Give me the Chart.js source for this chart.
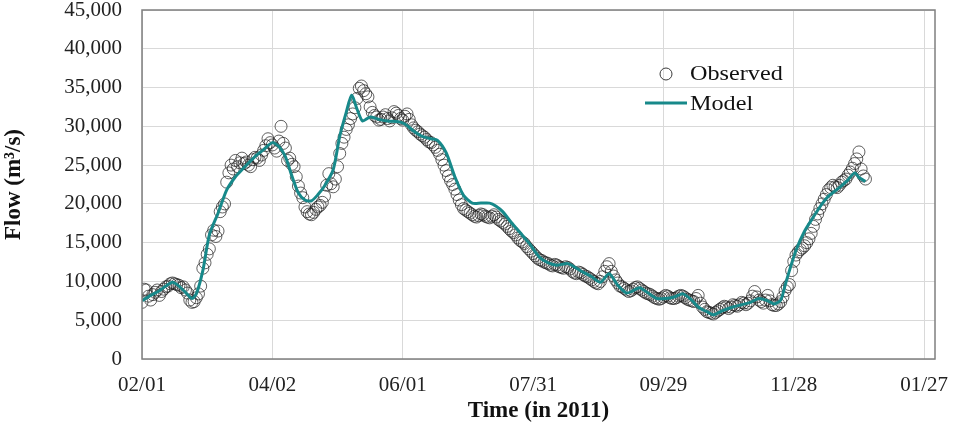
<!DOCTYPE html>
<html>
<head>
<meta charset="utf-8">
<script src="https://cdn.jsdelivr.net/npm/chart.js@4/dist/chart.umd.min.js"></script>
<style>
  html, body { margin: 0; padding: 0; background: #fff; }
  #wrap { width: 953px; height: 427px; }
</style>
</head>
<body>
<div id="wrap"><canvas id="chart" width="953" height="427"></canvas></div>
<script>
// x is days counted from 2011-02-01
const xTickDays = [0, 60, 120, 180, 240, 300, 360]
const xTickLabels = ["02/01", "04/02", "06/01", "07/31", "09/29", "11/28", "01/27"]
const yTicks = [0, 5000, 10000, 15000, 20000, 25000, 30000, 35000, 40000, 45000]

// daily observed flow, 02/01 .. 12/31
const obsFlow = [
  7300, 9000, 8900, 8100, 7600, 8300, 8600, 8900, 8200, 8700, 9000, 9300, 9400, 9700, 9800, 9700, 9600, 9500, 9200, 9300,
  8900, 8500, 7600, 7300, 7400, 7900, 8400, 9400, 11700, 12400, 13500, 14200, 16000, 16600, 15800, 16500, 19000, 19600, 20000, 22800,
  24000, 25000, 24500, 25600, 24800, 25300, 25900, 25200, 25400, 25000, 24800, 25700, 26000, 25900, 25600, 26300, 26900, 27500, 28400, 27900,
  27600, 27200, 26800, 28100, 30000, 27800, 27200, 25600, 25900, 25100, 24800, 23500, 22300, 21400, 20800, 19600, 19000, 18700, 18600, 18900,
  19300, 19600, 19800, 20200, 21000, 22400, 23900, 22600, 22200, 23200, 24800, 26500, 27800, 28600, 29600, 30200, 31000, 31600, 32400, 33600,
  34900, 35200, 34600, 34200, 33800, 32500, 31800, 31400, 31200, 30800, 30900, 31200, 31500, 31000, 30700, 31100, 31900, 31700, 31400, 31000,
  30800, 31300, 31600, 30900, 30200, 29800, 29500, 29300, 29000, 28800, 28600, 28300, 28000, 27900, 27600, 27300, 26900, 26400, 25700, 25000,
  24300, 23600, 23000, 22500, 21900, 21200, 20500, 19900, 19400, 19200, 19000, 18800, 18600, 18400, 18300, 18500, 18700, 18600, 18400, 18300,
  18200, 18400, 18600, 18300, 18000, 17800, 17600, 17400, 17100, 16800, 16500, 16300, 16000, 15600, 15300, 15100, 14900, 14500, 14200, 13900,
  13600, 13300, 13000, 12800, 12700, 12500, 12400, 12300, 12100, 12000, 12200, 12100, 11900, 11800, 11700, 11900, 11800, 11600, 11300, 11100,
  11000, 11200, 11100, 10900, 10700, 10600, 10400, 10200, 10000, 9800, 9700, 10000, 10600, 11300, 11900, 12300, 11300, 10700, 10200, 9800,
  9400, 9300, 9100, 8900, 8700, 8800, 9000, 9200, 9300, 9100, 8900, 8700, 8500, 8400, 8300, 8100, 7900, 7800, 7700, 7800,
  8000, 8200, 8100, 7900, 7800, 7800, 7900, 8100, 8200, 8100, 7900, 7700, 7600, 7500, 7400, 7800, 8200, 7200, 6700, 6400,
  6100, 6000, 5900, 5800, 6000, 6200, 6400, 6600, 6800, 6700, 6500, 6700, 7000, 6900, 6800, 7000, 7300, 7200, 7000, 7200,
  7500, 8100, 8700, 8000, 7600, 7400, 7200, 7600, 8200, 7500, 7000, 6900, 6900, 7100, 7400, 8000, 8800, 9300, 9600, 11400,
  12600, 13400, 13800, 14100, 14300, 14600, 15000, 15500, 16200, 17100, 18000, 18700, 19400, 20000, 20600, 21200, 21800, 22100, 22400, 22200,
  22100, 22400, 22800, 23000, 23200, 23700, 24100, 24600, 25200, 25800, 26700, 24500, 23600, 23200
]

const modelDays = [
  0, 4, 8, 11, 14, 17, 20, 23, 25, 28, 31, 35, 39, 43, 46, 52, 56, 60, 63, 66,
  69, 72, 75, 78, 81, 84, 88, 91, 94, 96.5, 99, 101.5, 105, 109, 113, 118, 121, 125, 129, 133,
  136, 140, 144, 148, 152, 156, 160, 163, 166, 170, 174, 178, 183, 187, 191, 196, 200, 203, 207, 211,
  215, 219, 223, 226, 229, 233, 237, 241, 245, 249, 253, 256, 260, 263, 267, 272, 276, 280, 284, 288,
  291, 294, 296, 298, 301, 305, 309, 313, 316, 321, 325, 328, 330, 333
]
const modelFlow = [
  7500, 8200, 8800, 9400, 9900, 9400, 8600, 7800, 8400, 11400, 16000, 18800, 21800, 23500, 24400, 26100, 27000, 27900, 27400, 26100,
  23600, 21400, 20500, 20400, 21200, 22300, 24400, 28700, 31800, 34000, 32200, 30700, 31200, 30900, 30700, 30600, 30300, 29400, 28700, 28400,
  28200, 26600, 23500, 21100, 20100, 20100, 20100, 19700, 19000, 17600, 16300, 15000, 13100, 12400, 12100, 12300, 11700, 11200, 10600, 9900,
  11000, 9500, 8500, 8800, 9200, 8500, 7800, 7800, 8000, 8400, 7600, 6700, 6100, 5700, 6200, 6700, 7000, 7300, 7800, 7500,
  7100, 7600, 9500, 11400, 14000, 16500, 18300, 20000, 21000, 22100, 23100, 24000, 23400, 22900
]

const TEAL = "#17898a"
const SERIF = "'Liberation Serif', 'Times New Roman', serif"

const observed = obsFlow.map((v, day) => ({ x: day, y: v }))
const model = modelDays.map((d, i) => ({ x: d, y: modelFlow[i] }))

function stretchedText(ctx, text, x, y, sx) {
  ctx.save()
  ctx.translate(x, y)
  ctx.scale(sx, 1)
  ctx.fillText(text, 0, 0)
  ctx.restore()
}

// plot frame + legend inside the plot, like the excel original
const framePlugin = {
  id: "frame",
  afterDraw(chart) {
    const { ctx, chartArea: a } = chart
    ctx.save()
    ctx.strokeStyle = "#7f7f7f"
    ctx.lineWidth = 1.5
    ctx.strokeRect(a.left, a.top, a.right - a.left, a.bottom - a.top)

    ctx.font = "22px " + SERIF
    ctx.fillStyle = "#111"
    ctx.textBaseline = "middle"
    ctx.beginPath()
    ctx.arc(666, 74, 6, 0, Math.PI * 2)
    ctx.strokeStyle = "#3a3a3a"
    ctx.lineWidth = 1
    ctx.stroke()
    stretchedText(ctx, "Observed", 690, 74, 1.1)

    ctx.beginPath()
    ctx.moveTo(645, 103)
    ctx.lineTo(687, 103)
    ctx.strokeStyle = TEAL
    ctx.lineWidth = 3
    ctx.stroke()
    stretchedText(ctx, "Model", 690, 104, 1.1)
    ctx.restore()
  }
}

function noPadding(scale) {
  scale.paddingLeft = 0
  scale.paddingRight = 0
  scale.paddingTop = 0
  scale.paddingBottom = 0
}

new Chart(document.getElementById("chart"), {
  type: "scatter",
  data: {
    datasets: [
      {
        label: "Model",
        type: "line",
        data: model,
        borderColor: TEAL,
        borderWidth: 3,
        pointRadius: 0,
        tension: 0.25,
        fill: false
      },
      {
        label: "Observed",
        data: observed,
        showLine: false,
        pointRadius: 6,
        pointBorderWidth: 1,
        pointBorderColor: "rgba(30,30,30,0.7)",
        pointBackgroundColor: "rgba(0,0,0,0)"
      }
    ]
  },
  options: {
    responsive: false,
    animation: false,
    devicePixelRatio: 1,
    layout: { padding: { left: 0, right: 18, top: 10, bottom: 0 } },
    plugins: {
      legend: { display: false },
      tooltip: { enabled: false }
    },
    scales: {
      x: {
        type: "linear",
        min: 0,
        max: 365,
        afterBuildTicks: (scale) => {
          scale.ticks = xTickDays.map((v) => ({ value: v }))
        },
        afterFit: (scale) => {
          scale.height = 68
          noPadding(scale)
        },
        border: { display: false },
        grid: { color: "#d9d9d9", lineWidth: 1, drawTicks: false },
        ticks: {
          padding: 14,
          color: "#222",
          maxRotation: 0,
          font: { size: 21, family: SERIF },
          callback: (v) => {
            const i = xTickDays.indexOf(v)
            return i >= 0 ? xTickLabels[i] : ""
          }
        },
        title: {
          display: true,
          text: "Time (in 2011)",
          color: "#111",
          font: { size: 23, weight: "bold", family: SERIF },
          padding: { top: 0, bottom: 2 }
        }
      },
      y: {
        min: 0,
        max: 45000,
        afterBuildTicks: (scale) => {
          scale.ticks = yTicks.map((v) => ({ value: v }))
        },
        afterFit: (scale) => {
          scale.width = 142
          noPadding(scale)
        },
        border: { display: false },
        grid: { color: "#d9d9d9", lineWidth: 1, drawTicks: false },
        ticks: {
          padding: 20,
          color: "#222",
          font: { size: 21, family: SERIF },
          callback: (v) => v.toLocaleString("en-US")
        },
        title: {
          display: true,
          text: "Flow (m³/s)",
          color: "#111",
          font: { size: 23, weight: "bold", family: SERIF },
          padding: { top: 0, bottom: 3 }
        }
      }
    }
  },
  plugins: [framePlugin]
})
</script>
</body>
</html>
